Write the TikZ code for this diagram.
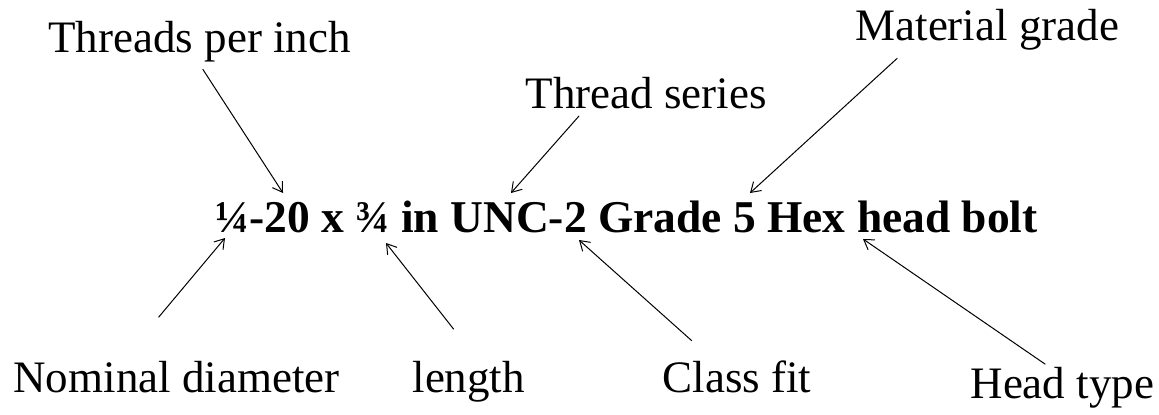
\documentclass[tikz,border=0pt]{standalone}
\usepackage{fontspec}
\setmainfont{Liberation Serif}
\usetikzlibrary{arrows.meta}

\tikzset{every picture/.style={line width=0.75pt}}
\tikzset{
  callout/.style={anchor=base west, inner sep=0.75pt, font=\fontsize{33.75}{40}\selectfont},
  spec/.style={callout, font=\fontsize{34.1}{40}\selectfont\bfseries},
  pointer/.style={-{Straight Barb[length=7pt,width=9pt]}, line width=0.75pt},
}

\begin{document}
\begin{tikzpicture}[x=0.75pt,y=0.75pt,yscale=-1,xscale=1]
\useasboundingbox (0,0) rectangle (1159,414);

% Text Node
\node [spec] (spec) at (214,232) {¼-20 x ¾ in UNC-2 Grade 5 Hex head bolt};
% Text Node
\node [callout] (tpi) at (47,52) {Threads per inch};
% Text Node
\node [callout] (series) at (524,108) {Thread series};
% Text Node
\node [callout] (grade) at (854,40) {Material grade};
% Text Node
\node [callout] (diam) at (12,392) {Nominal diameter};
% Text Node
\node [callout] (len) at (411,392) {length};
% Text Node
\node [callout] (fit) at (661,392) {Class fit};
% Text Node
\node [callout] (head) at (969,398) {Head type};

%Arrow tips on the spec line
\coordinate (tpi-tip) at (283,193);
\coordinate (series-tip) at (511,193);
\coordinate (grade-tip) at (750,193);
\coordinate (diam-tip) at (225,238);
\coordinate (len-tip) at (386,243);
\coordinate (fit-tip) at (579,240);
\coordinate (head-tip) at (863,239);

%Straight Lines
\draw [pointer] ([shift={(3,6)}]tpi.south) -- (tpi-tip);
%Straight Lines
\draw [pointer] ([shift={(-67,6)}]series.south) -- (series-tip);
%Straight Lines
\draw [pointer] ([shift={(-90,7)}]grade.south) -- (grade-tip);
%Straight Lines
\draw [pointer] ([shift={(-18,-42)}]diam.north) -- (diam-tip);
%Straight Lines
\draw [pointer] ([shift={(-15,-30)}]len.north) -- (len-tip);
%Straight Lines
\draw [pointer] ([shift={(-45,-18)}]fit.north) -- (fit-tip);
%Straight Lines
\draw [pointer] ([shift={(-17,-1)}]head.north) -- (head-tip);

\end{tikzpicture}
\end{document}
